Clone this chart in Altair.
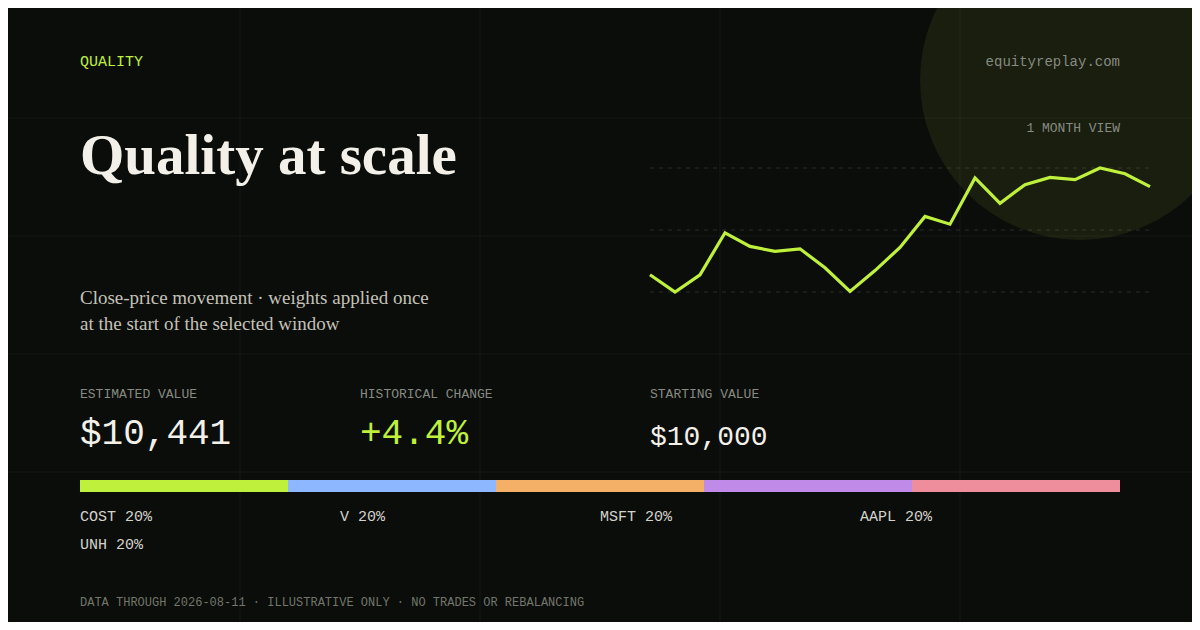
import pandas as pd
import altair as alt

# month of daily closes for the equal-weight basket
days = list(range(21))
values = [10000, 9914, 10000, 10210, 10142, 10117, 10130, 10035, 9917, 10021,
          10137, 10292, 10253, 10484, 10357, 10451, 10487, 10476, 10534, 10505, 10441]

tickers = ["COST", "V", "MSFT", "AAPL", "UNH"]
weights = [20, 20, 20, 20, 20]
colors = ["#bef03c", "#8db8ff", "#f4b066", "#c08ae8", "#ee8e9c"]

start_value = 10000
estimated_value = values[-1]

BG = "#0b0d0a"
LIME = "#bef03c"
CREAM = "#f2f0e8"
GRAY = "#878a82"
MONO = "Liberation Mono"
SERIF = "Liberation Serif"

# page is offset by the 8px body margin, so every layout spot is shifted
OFF = 8
one = pd.DataFrame({"k": [0]})


def label(text, x, y, size, color, font=MONO, align="left", weight="normal", **kw):
    return alt.Chart(one).mark_text(
        text=text, font=font, fontSize=size, color=color, align=align,
        baseline="alphabetic", fontWeight=weight, **kw
    ).encode(x=alt.value(x - OFF), y=alt.value(y - OFF))


layers = []

# glow circle in the top right (symbol size is the square of the diameter)
layers.append(
    alt.Chart(one).mark_circle(color=LIME, opacity=0.08, size=(2 * 160) ** 2)
    .encode(x=alt.value(1080 - OFF), y=alt.value(80 - OFF))
)

# faint background grid
for gx in [240, 480, 720, 960]:
    layers.append(
        alt.Chart(one).mark_rule(color="#ffffff", opacity=0.05)
        .encode(x=alt.value(gx - OFF), y=alt.value(0), y2=alt.value(630))
    )
for gy in [118, 236, 354, 472]:
    layers.append(
        alt.Chart(one).mark_rule(color="#ffffff", opacity=0.05)
        .encode(y=alt.value(gy - OFF), x=alt.value(0), x2=alt.value(1200))
    )

# header texts
layers.append(label("QUALITY", 80, 66, 15, LIME))
layers.append(label("equityreplay.com", 1120, 66, 14, GRAY, align="right"))
layers.append(label("1 MONTH VIEW", 1120, 132, 13, GRAY, align="right"))
layers.append(label("Quality at scale", 80, 174, 57, CREAM, font=SERIF, weight="bold"))
layers.append(label(["Close-price movement · weights applied once",
                     "at the start of the selected window"],
                    80, 304, 19, "#c4c2b8", font=SERIF, lineHeight=26))

# trend line with min / mid / max guides
trend = pd.DataFrame({"day": days, "value": values})
lo, hi = min(values), max(values)
levels = pd.DataFrame({"level": [lo, (lo + hi) / 2, hi]})
x_line = alt.Scale(domain=[0, 20], range=[650 - OFF, 1150 - OFF])
y_line = alt.Scale(domain=[lo, hi], range=[292 - OFF, 168 - OFF], zero=False, nice=False)

layers.append(
    alt.Chart(levels).mark_rule(color="#ffffff", opacity=0.13, strokeDash=[4, 5])
    .encode(x=alt.value(650 - OFF), x2=alt.value(1150 - OFF),
            y=alt.Y("level:Q", scale=y_line, axis=None))
)
layers.append(
    alt.Chart(trend).mark_line(color=LIME, strokeWidth=3.2)
    .encode(x=alt.X("day:Q", scale=x_line, axis=None),
            y=alt.Y("value:Q", scale=y_line, axis=None))
)

# summary stats
change = (estimated_value - start_value) / start_value * 100
layers.append(label("ESTIMATED VALUE", 80, 398, 13, GRAY))
layers.append(label("HISTORICAL CHANGE", 360, 398, 13, GRAY))
layers.append(label("STARTING VALUE", 650, 398, 13, GRAY))
layers.append(label(f"${estimated_value:,}", 80, 444, 36, CREAM))
layers.append(label(f"+{change:.1f}%", 360, 444, 36, LIME))
layers.append(label(f"${start_value:,}", 650, 445, 28, CREAM))

# allocation bar and its labels
alloc = pd.DataFrame({"ticker": tickers, "weight": weights})
alloc["end"] = alloc["weight"].cumsum()
alloc["start"] = alloc["end"] - alloc["weight"]
alloc["label"] = alloc["ticker"] + " " + alloc["weight"].astype(str) + "%"
alloc["col"] = alloc.index % 4
alloc["row"] = alloc.index // 4

x_bar = alt.Scale(domain=[0, 100], range=[80 - OFF, 1120 - OFF])
layers.append(
    alt.Chart(alloc).mark_rect()
    .encode(x=alt.X("start:Q", scale=x_bar, axis=None), x2="end:Q",
            y=alt.value(480 - OFF), y2=alt.value(492 - OFF),
            color=alt.Color("ticker:N", scale=alt.Scale(domain=tickers, range=colors), legend=None))
)
layers.append(
    alt.Chart(alloc).mark_text(font=MONO, fontSize=15, color="#d4d3ca", align="left", baseline="alphabetic")
    .encode(x=alt.X("col:Q", scale=alt.Scale(domain=[0, 4], range=[80 - OFF, 1120 - OFF]), axis=None),
            y=alt.Y("row:Q", scale=alt.Scale(domain=[0, 1], range=[521 - OFF, 549 - OFF]), axis=None),
            text="label:N")
)

layers.append(label("DATA THROUGH 2026-08-11 · ILLUSTRATIVE ONLY · NO TRADES OR REBALANCING",
                    80, 606, 12, "#72766c"))

# 1184 x 614 plus the 8px page margin on each side fills the 1200 x 630 window
chart = (
    alt.layer(*layers)
    .resolve_scale(x="independent", y="independent", color="independent")
    .properties(width=1184, height=614, autosize=alt.AutoSizeParams(type="none"),
                padding=0, background=BG)
    .configure_view(stroke=None)
)

chart.save("out.html", embed_options={"renderer": "svg", "actions": False})
